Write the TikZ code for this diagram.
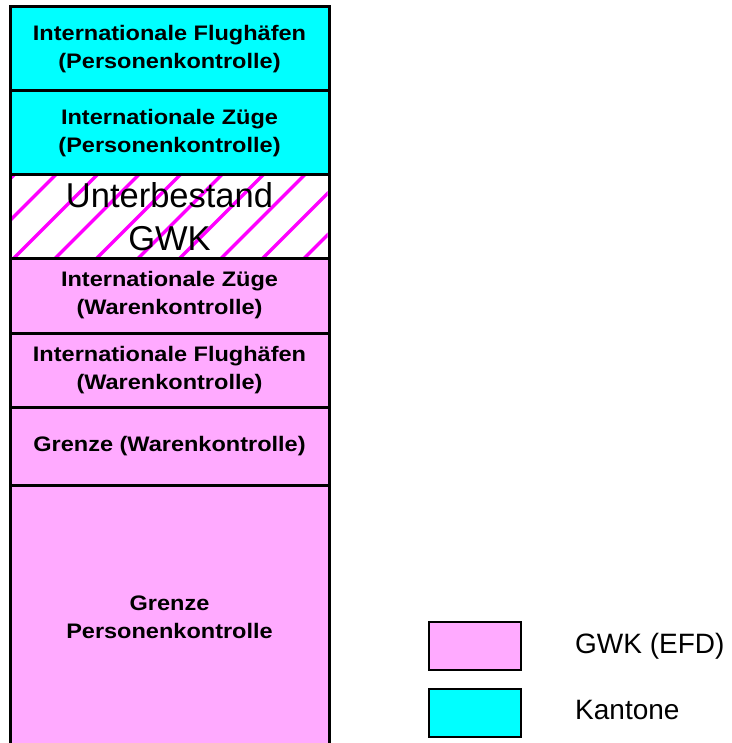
\documentclass[tikz,border=0pt]{standalone}
\usepackage{fontspec}
\setmainfont{Liberation Sans}
\newfontfamily\bandfont[FakeStretch=1.12]{Liberation Sans}
\definecolor{pinkfill}{RGB}{255,170,255}
\definecolor{cyanfill}{RGB}{0,255,255}
\definecolor{hatchmag}{RGB}{255,0,255}
\tikzset{
  band/.style={draw=black, line width=3pt, minimum width=319pt, inner sep=0pt, outer sep=0pt, anchor=north west},
  pinkband/.style={band, fill=pinkfill},
  cyanband/.style={band, fill=cyanfill},
  bandtext/.style={align=center, inner sep=0pt, font=\bandfont\bfseries\fontsize{21pt}{28pt}\selectfont},
  bigtext/.style={align=center, inner sep=0pt, font=\fontsize{34.5pt}{43pt}\selectfont},
  legbox/.style={draw=black, line width=2pt, minimum width=92pt, minimum height=48pt, inner sep=0pt},
  legtext/.style={anchor=base west, inner sep=0pt, font=\fontsize{28pt}{34pt}\selectfont},
  stripe/.style={draw=hatchmag, line width=3.3pt}
}
\begin{document}
\begin{tikzpicture}[x=1pt,y=-1pt]
\useasboundingbox (0,0) rectangle (731,743);
\clip (0,0) rectangle (731,743);
% bands
\node[cyanband, minimum height=84pt] (b1) at (10,7) {};
\node[cyanband, minimum height=84pt] (b2) at (10,91) {};
\node[band, fill=white, minimum height=83pt] (b3) at (10,175) {};
\node[pinkband, minimum height=75pt] (b4) at (10,258) {};
\node[pinkband, minimum height=74pt] (b5) at (10,333) {};
\node[pinkband, minimum height=78pt] (b6) at (10,407) {};
\node[pinkband, minimum height=265pt] (b7) at (10,485) {};
% hatching
\begin{scope}
  \clip (11.5,176.5) rectangle (327.5,256.5);
  \foreach \k in {3,...,15} {
    \pgfmathsetmacro{\c}{23+41.5*\k}
    \draw[stripe] (\c-170,170) -- (\c-265,265);
  }
\end{scope}
\draw[line width=3pt] (b3.north west) rectangle (b3.south east);
% texts
\node[bandtext] (t1) at (b1.center) {Internationale Flughäfen\\(Personenkontrolle)};
\node[bandtext] (t2) at (b2.center) {Internationale Züge\\(Personenkontrolle)};
\node[bigtext] (t3) at (b3.center) {Unterbestand\\GWK};
\node[bandtext] (t4) at (b4.center) {Internationale Züge\\(Warenkontrolle)};
\node[bandtext] (t5) at (b5.center) {Internationale Flughäfen\\(Warenkontrolle)};
\node[bandtext] (t6) at (b6.center) {Grenze (Warenkontrolle)};
\node[bandtext] (t7) at (169.5,617) {Grenze\\Personenkontrolle};
% legend
\node[legbox, fill=pinkfill] (l1) at (475,646) {};
\node[legbox, fill=cyanfill] (l2) at (475,713) {};
\node[legtext] (lt1) at (575,653) {GWK (EFD)};
\node[legtext] (lt2) at (575,719) {Kantone};
\end{tikzpicture}
\end{document}
